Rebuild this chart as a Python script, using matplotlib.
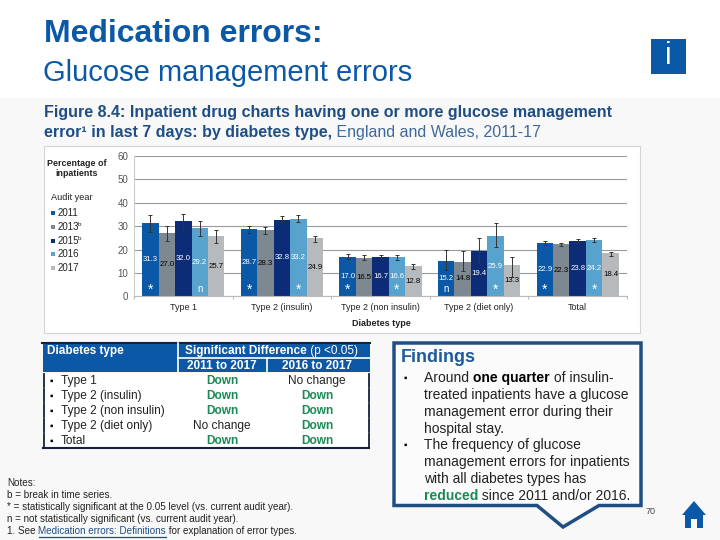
import numpy as np
import matplotlib
matplotlib.use('Agg')
import matplotlib.pyplot as plt
from matplotlib.patches import Rectangle, Polygon
plt.rcParams['font.family'] = ['Liberation Sans', 'DejaVu Sans']

# data
categories = ['Type 1', 'Type 2 (insulin)', 'Type 2 (non insulin)', 'Type 2 (diet only)', 'Total']
years = ['2011', '2013', '2015', '2016', '2017']
year_sup = ['', 'b', 'b', '', '']
v2011 = [31.3, 28.7, 17.0, 15.2, 22.9]
v2013 = [27.0, 28.3, 16.5, 14.8, 22.3]
v2015 = [32.0, 32.8, 16.7, 19.4, 23.8]
v2016 = [29.2, 33.2, 16.6, 25.9, 24.2]
v2017 = [25.7, 24.9, 12.8, 13.3, 18.4]
low2011 = [27.6, 27.0, 15.9, 11.3, 21.9]
low2013 = [23.6, 26.8, 15.5, 10.8, 21.6]
low2015 = [28.7, 31.9, 15.8, 14.2, 22.9]
low2016 = [26.0, 31.8, 15.6, 21.0, 23.1]
low2017 = [22.6, 23.4, 11.6, 8.4, 17.4]
high2011 = [34.6, 30.0, 17.9, 19.8, 23.5]
high2013 = [29.9, 29.5, 17.5, 19.2, 22.8]
high2015 = [35.2, 34.2, 17.5, 24.8, 24.6]
high2016 = [32.0, 34.6, 17.6, 31.2, 24.8]
high2017 = [28.2, 26.0, 13.8, 16.7, 19.1]
marks2011 = ['*', '*', '*', 'n', '*']
marks2016 = ['n', '*', '*', '*', '*']
colors = ['#0b58a6', '#7d8890', '#0c2c78', '#57a3cd', '#b7babd']
label_colors = ['white', 'black', 'white', 'white', 'black']

table_rows = ['Type 1', 'Type 2 (insulin)', 'Type 2 (non insulin)', 'Type 2 (diet only)', 'Total']
col_2011 = ['Down', 'Down', 'Down', 'No change', 'Down']
col_2016 = ['No change', 'Down', 'Down', 'Down', 'Down']

BLUE = '#0b58a6'
GREEN = '#1a8a55'

fig = plt.figure(figsize=(7.2, 5.4), dpi=100, facecolor='white')
bg = fig.add_axes([0, 0, 1, 1])
bg.set_xlim(0, 720)
bg.set_ylim(540, 0)
bg.axis('off')


def put(x, y, s, size=9, color='black', weight='normal', ha='left', **kw):
    return bg.text(x, y, s, fontsize=size, color=color, fontweight=weight, ha=ha, va='center', **kw)


def runs(x, y, parts, size):
    # several styles on one line
    r = fig.canvas.get_renderer()
    for s, color, weight in parts:
        t = put(x, y, s, size, color, weight)
        x += t.get_window_extent(r).width
    return x


# slide background
bg.add_patch(Rectangle((0, 98), 720, 442, fc='#f8f8f8', ec='none'))
bg.add_patch(Rectangle((44, 146), 596, 187, fc='white', ec='#d4d4d4', lw=0.8))

# heading
put(44, 34, 'Medication errors:', 23, BLUE, 'bold')
put(43, 73, 'Glucose management errors', 21, BLUE)
bg.add_patch(Rectangle((651, 39), 35, 35, fc=BLUE, ec='none'))
put(668.5, 56, 'i', 22, 'white', ha='center')
put(44, 113, 'Figure 8.4: Inpatient drug charts having one or more glucose management', 11.5, '#1f4e85', 'bold')
runs(44, 132, [('error\u00b9 in last 7 days: by diabetes type,', '#1f4e85', 'bold'),
               (' England and Wales, 2011-17', '#3f6a98', 'normal')], 11.5)

# chart
ax = fig.add_axes([134 / 720, 1 - 296.3 / 540, 493 / 720, 140.3 / 540])
ax.set_xlim(0, 5)
ax.set_ylim(0, 60)
ax.set_facecolor('white')
values = [v2011, v2013, v2015, v2016, v2017]
lows = [low2011, low2013, low2015, low2016, low2017]
highs = [high2011, high2013, high2015, high2016, high2017]
x = np.arange(5) + 0.5
w = 1 / 6
for j in range(5):
    v = np.array(values[j])
    px = x + (j - 2) * w
    ax.bar(px, v, w, color=colors[j], zorder=2)
    ax.errorbar(px, v, yerr=[v - np.array(lows[j]), np.array(highs[j]) - v], fmt='none',
                ecolor='#333333', elinewidth=0.7, capsize=1.3, capthick=0.7, zorder=3)
    for i in range(5):
        ax.text(px[i], v[i] / 2, '%.1f' % v[i], color=label_colors[j], fontsize=5.6,
                ha='center', va='center', zorder=4)
for j, marks in ((0, marks2011), (3, marks2016)):
    for i in range(5):
        ax.text(x[i] + (j - 2) * w, 3.2 if marks[i] == 'n' else 2.6, marks[i], color='white',
                fontsize=7 if marks[i] == 'n' else 10, ha='center', va='center', zorder=4)
ax.set_yticks(range(0, 61, 10))
ax.set_xticks(range(6))
ax.set_xticklabels([])
ax.grid(axis='y', color='#9a9a9a', lw=0.8, zorder=1)
ax.tick_params(axis='y', length=0, labelsize=7, labelcolor='#555555', pad=4)
ax.tick_params(axis='x', length=2, color='#bbbbbb')
for s in ('top', 'right'):
    ax.spines[s].set_visible(False)
ax.spines['left'].set_color('#cccccc')
ax.spines['bottom'].set_color('#bbbbbb')
for i, c in enumerate(categories):
    put(134 + 98.6 * (i + 0.5), 307.7, c, 6.5, '#222222', ha='center')
put(381, 323, 'Diabetes type', 6.5, '#222222', 'bold', ha='center')

# legend
put(77, 164, 'Percentage of', 6.4, '#222222', 'bold', ha='center')
put(77, 174, 'inpatients', 6.4, '#222222', 'bold', ha='center')
put(72, 197, 'Audit year', 6.6, '#222222', ha='center')
for j, y in enumerate([212.7, 226.7, 241, 254.3, 268.3]):
    bg.add_patch(Rectangle((51, y - 2), 4, 4, fc=colors[j], ec='none'))
    t = put(58, y, years[j], 7, '#222222')
    if year_sup[j]:
        put(78, y - 2, year_sup[j], 4.5, '#222222')

# table
bg.add_patch(Rectangle((42.5, 343), 327.5, 29, fc=BLUE, ec='none'))
bg.plot([42, 370], [343, 343], color='#11233f', lw=1.5)
bg.plot([178, 370], [358, 358], color='white', lw=1.2)
bg.plot([178, 178], [343, 372], color='white', lw=1.2)
bg.plot([267, 267], [358, 372], color='white', lw=1.2)
put(47, 351, 'Diabetes type', 8.5, 'white', 'bold')
runs(185, 351, [('Significant Difference', 'white', 'bold'), (' (p <0.05)', 'white', 'normal')], 8.5)
put(222, 366, '2011 to 2017', 8.5, 'white', 'bold', ha='center')
put(317, 366, '2016 to 2017', 8.5, 'white', 'bold', ha='center')
for i, r in enumerate(table_rows):
    y = 380.7 + 15 * i
    bg.add_patch(Rectangle((43, y - 7.5), 326, 15, fc='white', ec='none'))
    bg.plot([43.5, 43.5], [y - 6.5, y + 6.5], color='#11233f', lw=1.3)
    bg.plot([369, 369], [y - 6.5, y + 6.5], color='#11233f', lw=1.3)
    put(49, y, '\u25aa', 7)
    put(61, y, r, 8.6, '#222222')
    for cx, val in ((222, col_2011[i]), (317, col_2016[i])):
        if val == 'Down':
            put(cx, y, val, 8.6, GREEN, 'bold', ha='center')
        else:
            put(cx, y, val, 8.6, '#222222', ha='center')
bg.plot([43, 369], [447.7, 447.7], color='#11233f', lw=1.5)

# notes
put(7, 483, 'Notes:', 7.1, '#222222')
put(7, 495.5, 'b = break in time series.', 7.1, '#222222')
put(7, 507.5, '* = statistically significant at the 0.05 level (vs. current audit year).', 7.1, '#222222')
put(7, 519.5, 'n = not statistically significant (vs. current audit year).', 7.1, '#222222')
xe = runs(7, 531.5, [('1. See ', '#222222', 'normal'), ('Medication errors: Definitions', '#1f4e85', 'normal')], 7.1)
bg.plot([39, xe], [536.5, 536.5], color='#1f4e85', lw=0.9)
runs(xe, 531.5, [(' for explanation of error types.', '#222222', 'normal')], 7.1)

# findings box
bg.add_patch(Polygon([(394, 343), (641, 343), (641, 505.5), (599, 505.5), (563, 527), (537, 505.5), (394, 505.5)],
                     closed=True, fc='#fbfbfb', ec='#1f4e85', lw=2.5, joinstyle='miter'))
put(401, 357, 'Findings', 12.9, '#1f5a99', 'bold')
put(403, 378, '\u25aa', 7)
put(403, 445, '\u25aa', 7)
runs(424, 378, [('Around ', '#222222', 'normal'), ('one quarter', 'black', 'bold'), (' of insulin-', '#222222', 'normal')], 10)
put(424, 395, 'treated inpatients have a glucose', 10, '#222222')
put(424, 412, 'management error during their', 10, '#222222')
put(424, 429, 'hospital stay.', 10, '#222222')
put(424, 445, 'The frequency of glucose', 10, '#222222')
put(424, 462, 'management errors for inpatients', 10, '#222222')
put(424, 479, 'with all diabetes types has', 10, '#222222')
runs(424, 496, [('reduced', GREEN, 'bold'), (' since 2011 and/or 2016.', '#222222', 'normal')], 10)

# page number and home icon
put(646, 511, '70', 6.5, '#444444')
bg.add_patch(Polygon([(694, 501), (706, 515), (703, 515), (703, 528), (697, 528), (697, 519), (691, 519),
                      (691, 528), (685, 528), (685, 515), (682, 515)], closed=True, fc=BLUE, ec='none'))

fig.savefig('out.png', dpi=100)
